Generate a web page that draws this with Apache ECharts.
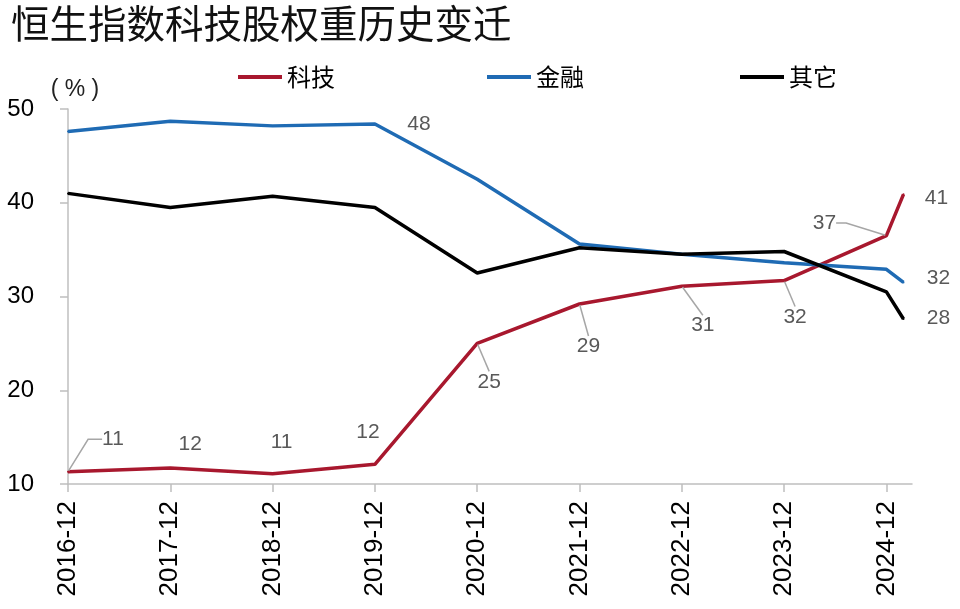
<!DOCTYPE html>
<html><head><meta charset="utf-8">
<script src="https://cdn.jsdelivr.net/npm/echarts@6/dist/echarts.min.js"></script>
<style>html,body{margin:0;padding:0;background:#fff}#c{width:960px;height:609px}</style>
</head><body><div id="c"></div>
<script>
// ---- data ----
const dates = ['2016-12','2017-12','2018-12','2019-12','2020-12','2021-12','2022-12','2023-12','2024-12','2025-02'];
const tickLabels = ['2016-12','2017-12','2018-12','2019-12','2020-12','2021-12','2022-12','2023-12','2024-12'];
const tech    = [11.3, 11.7, 11.1, 12.1, 25.0, 29.2, 31.1, 31.7, 36.5, 40.9];
const finance = [47.6, 48.7, 48.2, 48.4, 42.5, 35.6, 34.5, 33.6, 32.9, 31.5];
const other   = [41.0, 39.5, 40.7, 39.5, 32.5, 35.2, 34.5, 34.8, 30.5, 27.6];
const seriesNames = ['科技','金融','其它'];

// ---- helpers ----
function monthIndex(s){ const [y,m] = s.split('-').map(Number); return (y-2016)*12 + (m-12); }
const xs = dates.map(monthIndex);
const tickVals = tickLabels.map(monthIndex);
const labelMap = {}; tickLabels.forEach((t,i)=>labelMap[tickVals[i]] = t);

// label settings: [seriesIndex][dataIndex] -> [dx, dy, leaderLength2 (or null = no leader)]
const labelCfg = {
  0: {0:[45,-16,14],1:[20,-7],2:[9,-15],3:[-7,-16],4:[12,55,0],5:[9,59,0],6:[21,56,0],7:[11,53,0],8:[-62,4,10],9:[33,20]},
  1: {3:[44,17], 9:[35,12]},
  2: {9:[35,16]}
};

const colors = ['#a8182e','#1f6bb4','#000000'];
const valuesList = [tech, finance, other];

const series = valuesList.map((vals, si) => ({
  name: seriesNames[si],
  type: 'line',
  symbol: 'circle',
  symbolSize: 2,
  showSymbol: true,
  color: colors[si],
  lineStyle: {width: 3.5, color: colors[si]},
  itemStyle: {color: colors[si]},
  z: 2 + si,
  animation: false,
  data: vals.map((v, i) => {
    const cfg = labelCfg[si][i];
    const hasLine = !!(cfg && cfg.length > 2);
    return {
      value: [xs[i], v],
      label: {
        show: !!cfg,
        position: 'top',
        formatter: String(Math.round(v)),
        color: '#595959',
        fontSize: 21,
        fontFamily: 'Liberation Sans, Arial, sans-serif'
      },
      labelLine: {
        show: hasLine,
        length2: hasLine ? cfg[2] : 0,
        lineStyle: {color: '#a6a6a6', width: 1.5}
      }
    };
  }),
  labelLayout: function(p){
    const cfg = labelCfg[p.seriesIndex] && labelCfg[p.seriesIndex][p.dataIndex];
    return cfg ? {dx: cfg[0], dy: cfg[1]} : {};
  }
}));

const legendBase = {
  top: 60, itemWidth: 44, itemHeight: 4, icon: 'rect', itemGap: 10,
  textStyle: {fontSize: 24, color: '#000', fontFamily: 'Noto Sans CJK SC'}
};

const option = {
  animation: false,
  title: {
    text: '恒生指数科技股权重历史变迁',
    left: 6, top: -1,
    textStyle: {fontSize: 38.5, fontWeight: 'normal', color: '#111', fontFamily: 'Noto Sans CJK SC'}
  },
  legend: [
    Object.assign({}, legendBase, {left: 233, data: ['科技']}),
    Object.assign({}, legendBase, {left: 482, data: ['金融']}),
    Object.assign({}, legendBase, {left: 735, data: ['其它']})
  ],
  grid: {left: 68, right: 48, top: 109, bottom: 125, containLabel: false},
  xAxis: {
    type: 'value',
    min: 0, max: 99,
    interval: 12,
    splitLine: {show: false},
    axisLine: {lineStyle: {color: '#bfbfbf', width: 1.5}},
    axisTick: {show: true, length: 8, lineStyle: {color: '#bfbfbf', width: 1.5}, customValues: tickVals},
    axisLabel: {
      rotate: 90, margin: 17, fontSize: 26, color: '#000',
      fontFamily: 'Liberation Sans, Arial, sans-serif',
      customValues: tickVals,
      formatter: v => labelMap[v] || ''
    }
  },
  yAxis: {
    type: 'value', min: 10, max: 50, interval: 10,
    name: '( % )', nameLocation: 'end', nameGap: 8,
    nameTextStyle: {fontSize: 23, color: '#222', fontFamily: 'Liberation Sans, Arial, sans-serif', padding: [0,0,0,14]},
    splitLine: {show: false},
    axisLine: {show: true, lineStyle: {color: '#bfbfbf', width: 1.5}},
    axisTick: {show: true, length: 8, lineStyle: {color: '#bfbfbf', width: 1.5}},
    axisLabel: {fontSize: 24, color: '#000', margin: 34, fontFamily: 'Liberation Sans, Arial, sans-serif'}
  },
  series: series
};

const chart = echarts.init(document.getElementById('c'), null, {renderer: 'canvas'});
chart.setOption(option);
</script>
</body></html>
